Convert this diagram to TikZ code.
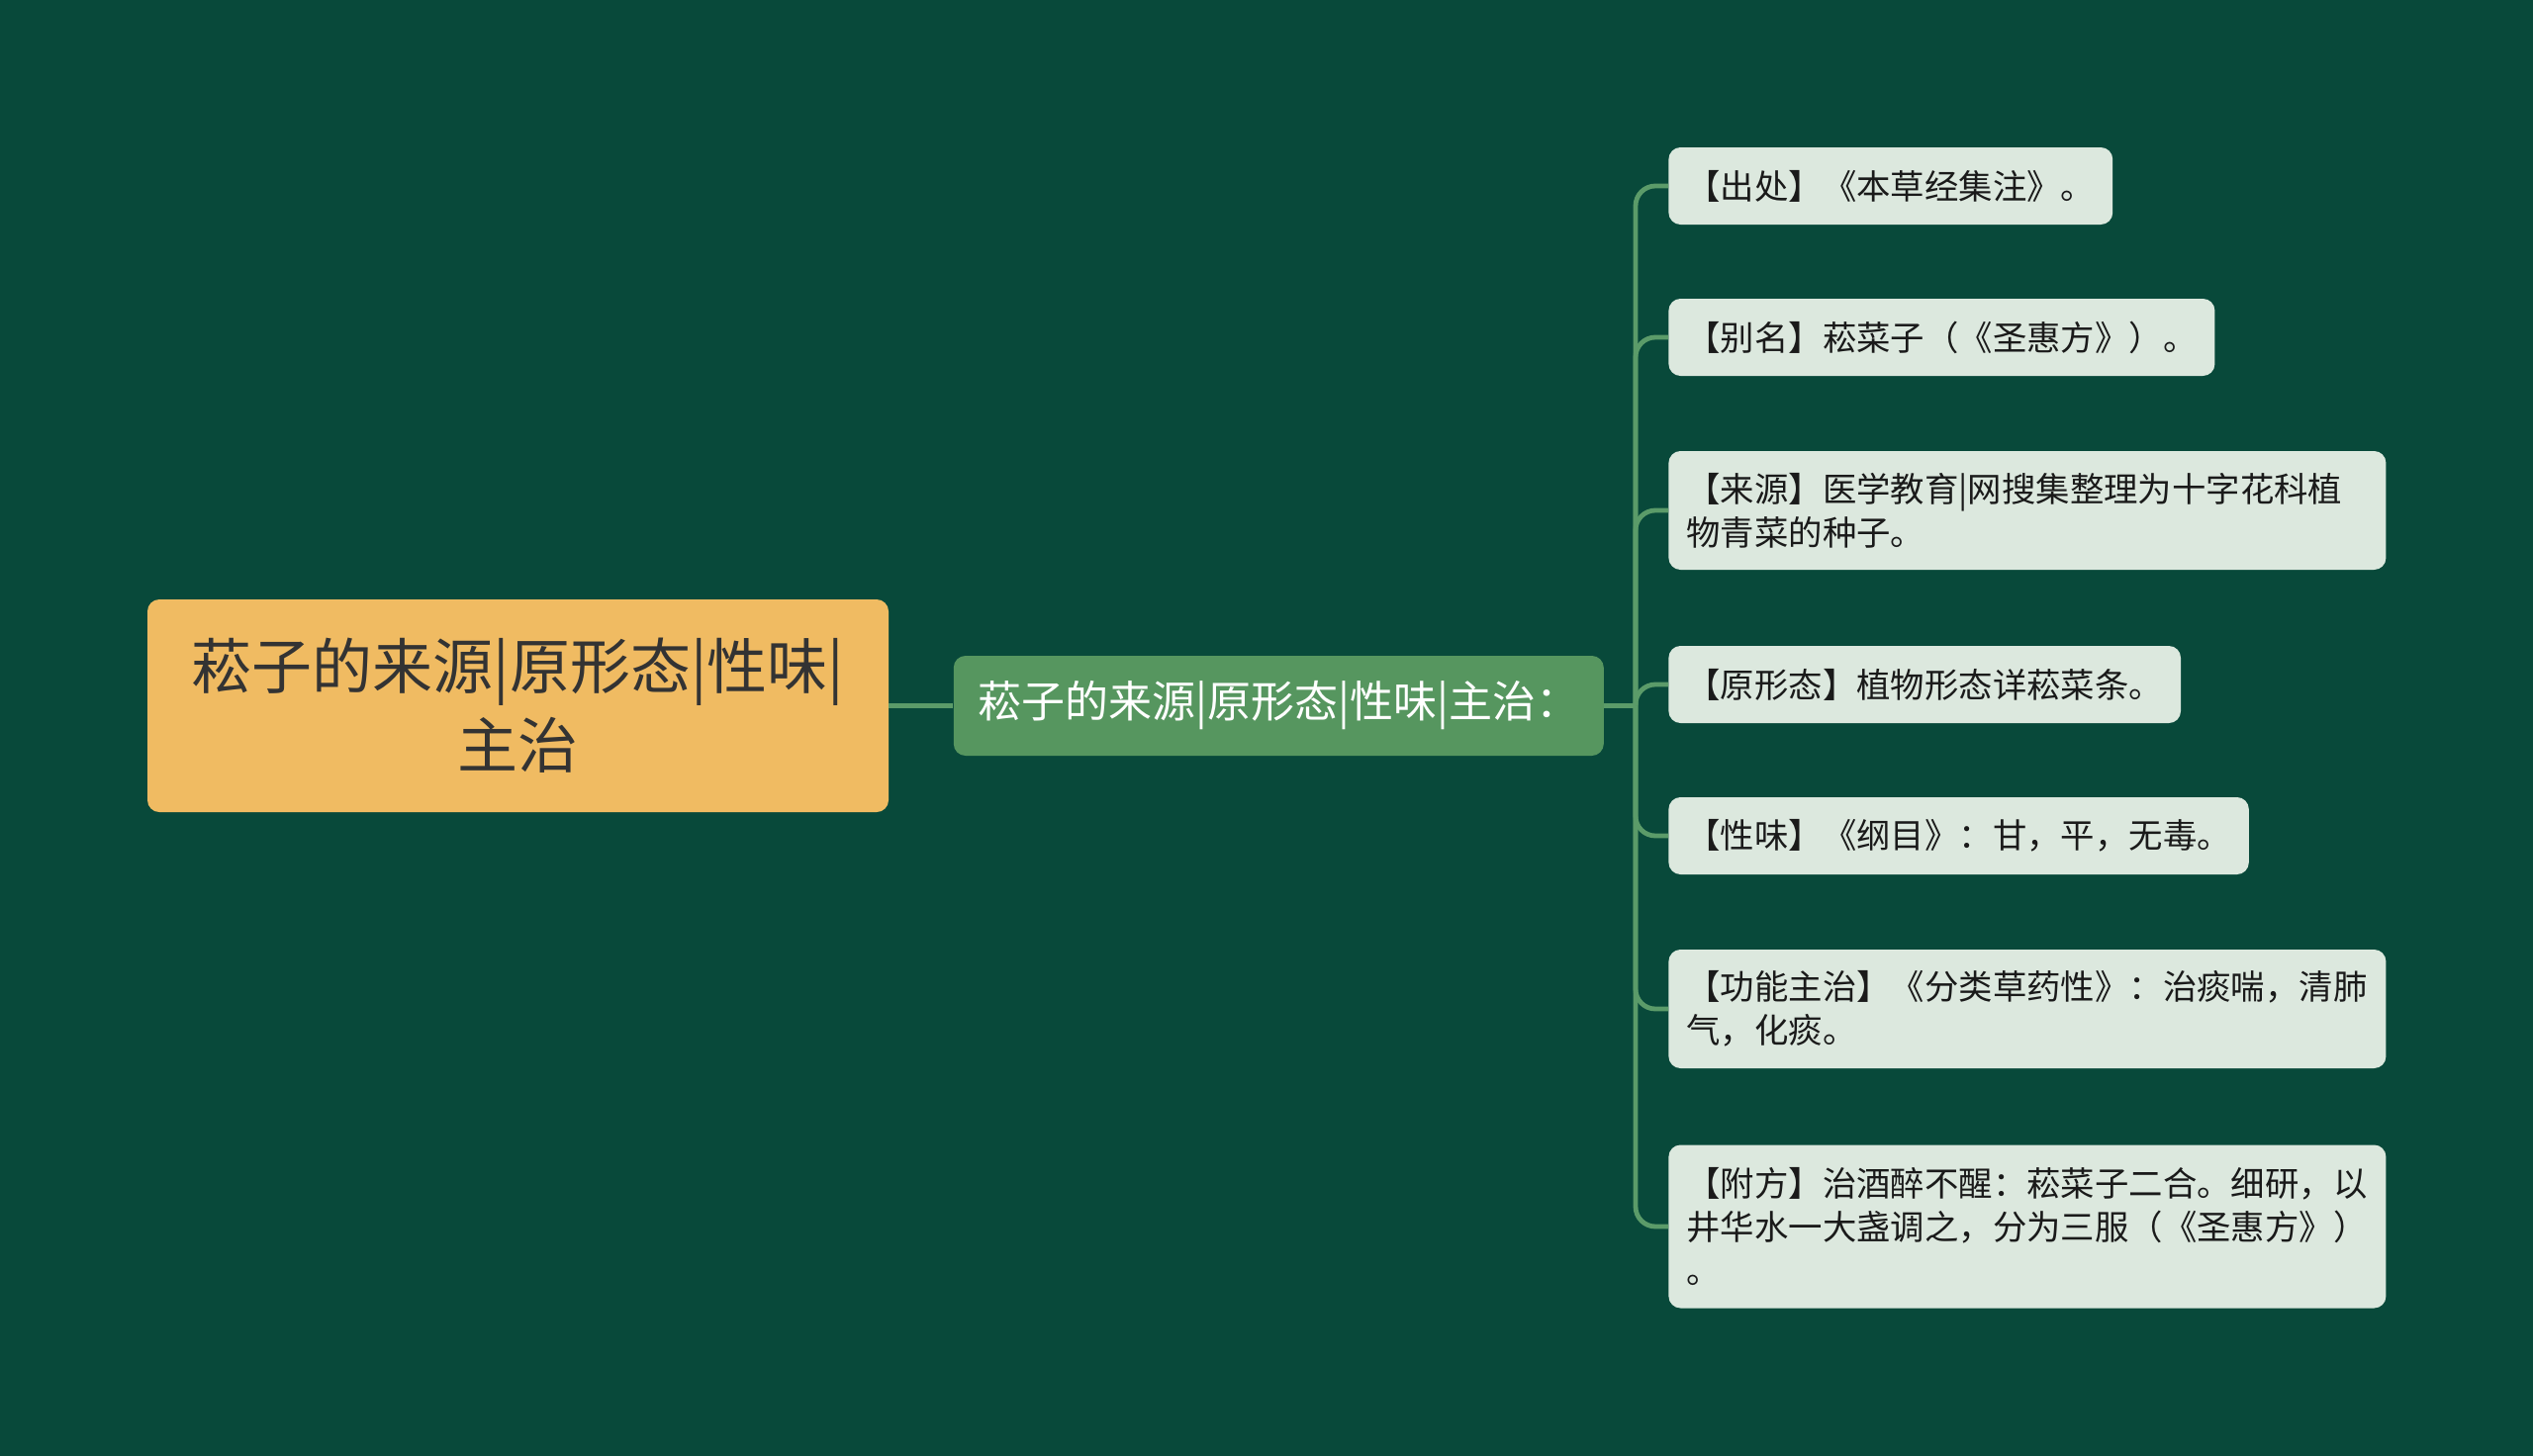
\documentclass[tikz,border=0pt]{standalone}
\usepackage{fontspec}
\setmainfont{Noto Sans CJK SC}
\usepackage{xcolor}
\usepackage{tikz}
\usetikzlibrary{positioning}
\definecolor{bg}{HTML}{08493A}
\definecolor{rootfill}{HTML}{F0BB62}
\definecolor{midfill}{HTML}{56965F}
\definecolor{leaffill}{HTML}{DCE8DE}
\definecolor{linkcol}{HTML}{5B9B69}
\definecolor{rootink}{HTML}{333333}
\definecolor{leafink}{HTML}{1A1A1A}

\begin{document}
\begin{tikzpicture}[x=0.5pt, y=-0.5pt, rootbox/.style={fill=rootfill, rounded corners=6pt, minimum width=374.5pt, minimum height=107.5pt, align=center, text=rootink, font=\fontsize{30.5pt}{40pt}\selectfont}, midbox/.style={fill=midfill, rounded corners=6pt, minimum width=328.5pt, minimum height=50.5pt, text=white, font=\fontsize{22pt}{28pt}\selectfont}, leaf/.style={fill=leaffill, rounded corners=6pt, anchor=west, inner xsep=9pt, inner ysep=0pt, minimum height=39pt, align=left, text=leafink, font=\fontsize{17.2pt}{22pt}\selectfont}, wide/.style={text width=344.5pt}, link/.style={draw=linkcol, line width=2.4pt, rounded corners=10pt}]
\fill[bg] (0,0) rectangle (2560,1472);
\useasboundingbox (0,0) rectangle (2560,1472);
\node[rootbox] (root) at (523.5,713.5) {菘子的来源|原形态|性味|\\主治};
\node[midbox, right=32.5pt of root] (mid) {菘子的来源|原形态|性味|主治：};
\coordinate (trunk) at (1653,713.5);
\node[leaf] (src) at (1686,188) {【出处】《本草经集注》。};
\node[leaf] (alias) at (1686,341) {【别名】菘菜子（《圣惠方》）。};
\node[leaf, wide, minimum height=60pt] (orig) at (1686,516) {【来源】医学教育|网搜集整理为十字花科植\\物青菜的种子。};
\node[leaf] (form) at (1686,692) {【原形态】植物形态详菘菜条。};
\node[leaf] (taste) at (1686,845) {【性味】《纲目》：甘，平，无毒。};
\node[leaf, wide, minimum height=60pt] (func) at (1686,1020) {【功能主治】《分类草药性》：治痰喘，清肺\\气，化痰。};
\node[leaf, wide, minimum height=82.5pt] (recipe) at (1686,1240) {【附方】治酒醉不醒：菘菜子二合。细研，以\\井华水一大盏调之，分为三服（《圣惠方》）\\。};
\draw[link] (root) -- (mid); \draw[link] (mid) -- (trunk);
\foreach \n in {src,alias,orig,form,taste,func,recipe} \draw[link] (trunk) |- (\n.west);
\end{tikzpicture}
\end{document}
